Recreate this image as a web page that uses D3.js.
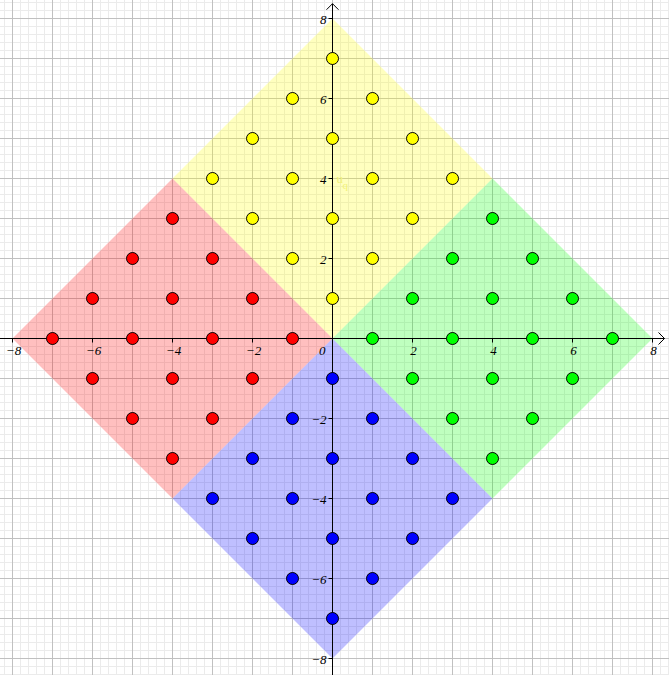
<!DOCTYPE html>
<html><head><meta charset="utf-8">
<script src="https://cdn.jsdelivr.net/npm/d3@7"></script>
<style>body{margin:0;background:#fff;}svg{display:block;}</style>
</head><body>
<script>
const yellowPts = [[0,7],[-1,6],[1,6],[-2,5],[0,5],[2,5],[-3,4],[-1,4],[1,4],[3,4],[-2,3],[0,3],[2,3],[-1,2],[1,2],[0,1]];
const greenPts = [[1,0],[2,1],[2,-1],[3,2],[3,0],[3,-2],[4,3],[4,1],[4,-1],[4,-3],[5,2],[5,0],[5,-2],[6,1],[6,-1],[7,0]];
const redPts = [[-1,0],[-2,1],[-2,-1],[-3,2],[-3,0],[-3,-2],[-4,3],[-4,1],[-4,-1],[-4,-3],[-5,2],[-5,0],[-5,-2],[-6,1],[-6,-1],[-7,0]];
const bluePts = [[0,-1],[-1,-2],[1,-2],[-2,-3],[0,-3],[2,-3],[-3,-4],[-1,-4],[1,-4],[3,-4],[-2,-5],[0,-5],[2,-5],[-1,-6],[1,-6],[0,-7]];
const yellowRegion = [[0,0],[4,4],[0,8],[-4,4]];
const redRegion = [[0,0],[-4,4],[-8,0],[-4,-4]];
const blueRegion = [[0,0],[-4,-4],[0,-8],[4,-4]];
const greenRegion = [[0,0],[4,-4],[8,0],[4,4]];
const xTicks = [-8,-6,-4,-2,2,4,6,8];
const yTicks = [-8,-6,-4,-2,2,4,6,8];

const W = 669, H = 675;
const x = d3.scaleLinear().domain([-8.3125, 8.4125]).range([0, W]);
const y = d3.scaleLinear().domain([8.4625, -8.4125]).range([0, H]);

const svg = d3.select("body").append("svg").attr("width", W).attr("height", H);
svg.append("rect").attr("width", W).attr("height", H).attr("fill", "#fff");

// grid
const minor = d3.range(-42, 43).map(i => i * 0.2);
const g = svg.append("g");
minor.forEach(v => {
  const major = Math.abs(v - Math.round(v)) < 1e-6;
  if (!major) {
    g.append("line").attr("x1", x(v)).attr("x2", x(v)).attr("y1", 0).attr("y2", H)
      .attr("stroke", "#ebebeb").attr("stroke-width", 1);
    g.append("line").attr("y1", y(v)).attr("y2", y(v)).attr("x1", 0).attr("x2", W)
      .attr("stroke", "#ebebeb").attr("stroke-width", 1);
  }
});
d3.range(-9, 10).forEach(v => {
  g.append("line").attr("x1", x(v)).attr("x2", x(v)).attr("y1", 0).attr("y2", H)
    .attr("stroke", "#c0c0c0").attr("stroke-width", 1);
  g.append("line").attr("y1", y(v)).attr("y2", y(v)).attr("x1", 0).attr("x2", W)
    .attr("stroke", "#c0c0c0").attr("stroke-width", 1);
});

// regions
const line = d3.line().x(d => x(d[0])).y(d => y(d[1]));
[[yellowRegion, "#ffff00"], [redRegion, "#ff0000"], [blueRegion, "#0000ff"], [greenRegion, "#00ff00"]].forEach(([r, c]) => {
  svg.append("path").attr("d", line(r) + "Z").attr("fill", c).attr("fill-opacity", 0.25).attr("stroke", "none");
});

// axes
const ax = svg.append("g").attr("stroke", "#000").attr("stroke-width", 1).attr("fill", "none");
ax.append("line").attr("x1", 0).attr("x2", x(8.3)).attr("y1", y(0)).attr("y2", y(0));
ax.append("line").attr("x1", x(0)).attr("x2", x(0)).attr("y1", H).attr("y2", y(8.37));
ax.append("path").attr("d", `M${x(8.3)-6},${y(0)-6} L${x(8.3)},${y(0)} L${x(8.3)-6},${y(0)+6}`);
ax.append("path").attr("d", `M${x(0)-6},${y(8.37)+6} L${x(0)},${y(8.37)} L${x(0)+6},${y(8.37)+6}`);
xTicks.forEach(v => ax.append("line").attr("x1", x(v)).attr("x2", x(v)).attr("y1", y(0)).attr("y2", y(0) + 4));
yTicks.forEach(v => ax.append("line").attr("x1", x(0) - 4).attr("x2", x(0)).attr("y1", y(v)).attr("y2", y(v)));

const font = "'Liberation Serif', serif";
const lab = svg.append("g").attr("font-family", font).attr("font-style", "italic").attr("font-size", 13).attr("fill", "#000");
xTicks.forEach(v => {
  lab.append("text").attr("x", x(v) + 1).attr("y", y(0) + 16).attr("text-anchor", "middle")
    .text(v < 0 ? "\u2212" + Math.abs(v) : v);
});
yTicks.forEach(v => {
  lab.append("text").attr("x", x(0) - 6).attr("y", y(v) + 5).attr("text-anchor", "end")
    .text(v < 0 ? "\u2212" + Math.abs(v) : v);
});
lab.append("text").attr("x", x(0) - 7).attr("y", y(0) + 16).attr("text-anchor", "end").text("0");

// faint label
const fl = svg.append("g").attr("font-family", font).attr("fill", "#f2f27a").attr("font-size", 13);
fl.append("text").attr("x", x(0) + 4).attr("y", y(4) + 4).text("u");
fl.append("text").attr("x", x(0) + 10).attr("y", y(4) + 10).attr("font-size", 11).text("q");

// points
[[yellowPts, "#ffff00"], [redPts, "#ff0000"], [greenPts, "#00ff00"], [bluePts, "#0000ff"]].forEach(([pts, c]) => {
  svg.append("g").selectAll("circle").data(pts).join("circle")
    .attr("cx", d => x(d[0])).attr("cy", d => y(d[1])).attr("r", 6)
    .attr("fill", c).attr("stroke", "#000").attr("stroke-width", 1);
});
</script>
</body></html>
